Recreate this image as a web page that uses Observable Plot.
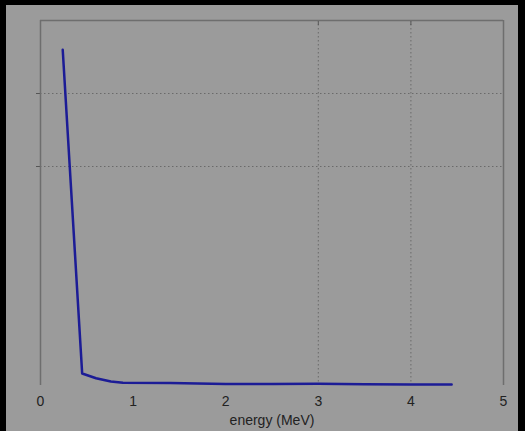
<!DOCTYPE html>
<html>
<head>
<meta charset="utf-8">
<script src="https://cdn.jsdelivr.net/npm/d3@7"></script>
<script src="https://cdn.jsdelivr.net/npm/@observablehq/plot@0.6"></script>
<style>
  html, body { margin: 0; padding: 0; background: #000; }
  #frame { position: absolute; left: 6px; top: 5px; width: 512px; height: 426px; background: #9b9b9b; }
</style>
</head>
<body>
<div id="frame"></div>
<script>
const energy = [0.24, 0.45, 0.60, 0.76, 0.89, 1.4, 2.0, 2.5, 3.0, 3.5, 4.0, 4.44];
const values = [4.60, 0.164, 0.10, 0.055, 0.037, 0.034, 0.020, 0.022, 0.023, 0.016, 0.014, 0.014];
const xTicks = [0, 1, 2, 3, 4, 5];
const gridTicks = [3, 4];
const xLabel = "energy (MeV)";

const data = energy.map((e, i) => ({e, v: values[i]}));

const chart = Plot.plot({
  width: 512,
  height: 426,
  marginLeft: 34,
  marginRight: 15,
  marginTop: 15,
  marginBottom: 46,
  style: {background: "transparent", fontFamily: "Liberation Sans, Arial, sans-serif", fontSize: "14px", color: "#222"},
  x: {domain: [0, 5], label: null},
  y: {domain: [0, 5], label: null},
  marks: [
    Plot.ruleX(gridTicks, {stroke: "#6a6a6a", strokeDasharray: "1.5,2.5", strokeWidth: 1}),
    Plot.ruleY(gridTicks, {stroke: "#6a6a6a", strokeDasharray: "1.5,2.5", strokeWidth: 1}),
    Plot.axisY({ticks: gridTicks, tickSize: 4, tickFormat: () => "", stroke: "#555", label: null}),
    Plot.axisX({anchor: "top", ticks: gridTicks, tickSize: -4, tickFormat: () => "", stroke: "#555", label: null}),
    Plot.ruleX([0, 5], {stroke: "#6e6e6e", strokeWidth: 1.5}),
    Plot.ruleY([5], {stroke: "#6e6e6e", strokeWidth: 1.5}),
    Plot.axisX({ticks: xTicks, tickSize: 0, tickPadding: 11, tickFormat: d3.format("d"), fill: "#222", fontSize: 14, label: null}),
    Plot.text([xLabel], {frameAnchor: "bottom", dy: 39, fill: "#222", fontSize: 14}),
    Plot.line(data, {x: "e", y: "v", stroke: "#1c1c96", strokeWidth: 2.5})
  ]
});
document.getElementById("frame").appendChild(chart);
</script>
</body>
</html>
